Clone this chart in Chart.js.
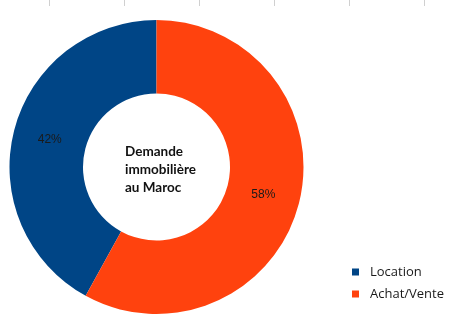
<!DOCTYPE html>
<html>
<head>
<meta charset="utf-8">
<script src="https://cdn.jsdelivr.net/npm/chart.js@4/dist/chart.umd.min.js"></script>
<style>
  html, body { margin: 0; padding: 0; background: #fff; }
  #wrap { position: relative; width: 450px; height: 329px; }
  .tick { position: absolute; top: 0; width: 1px; height: 6px; background: #d0d0d0; }
</style>
</head>
<body>
<div id="wrap">
  <canvas id="chart" width="450" height="329"></canvas>
</div>
<script>
'use strict';

var labels = ['Location', 'Achat/Vente'];
var values = [42, 58];
var colors = ['#004586', '#ff420e'];
var centerTitle = ['Demande', 'immobilière', 'au Maroc'];

// little grid stubs at the top of the sheet
[49, 124, 199, 274, 349, 424].forEach(function (x) {
  var d = document.createElement('div');
  d.className = 'tick';
  d.style.left = x + 'px';
  document.getElementById('wrap').appendChild(d);
});

var total = values.reduce(function (a, b) { return a + b; }, 0);

// percentage labels, centre title and legend
var extras = {
  id: 'extras',
  afterDraw: function (chart) {
    var ctx = chart.ctx;
    var meta = chart.getDatasetMeta(0);
    ctx.save();

    ctx.font = '12px "Liberation Sans", Arial, sans-serif';
    ctx.fillStyle = '#1a1a1a';
    ctx.textAlign = 'center';
    ctx.textBaseline = 'middle';
    meta.data.forEach(function (arc, i) {
      var p = arc.getCenterPoint();
      ctx.fillText(Math.round(values[i] / total * 100) + '%', p.x, p.y);
    });

    var c = meta.data[0];
    ctx.font = 'bold 13.5px Lato, "Open Sans", sans-serif';
    ctx.fillStyle = '#111';
    ctx.textAlign = 'left';
    centerTitle.forEach(function (line, i) {
      ctx.fillText(line, c.x - 31.5, c.y - 15 + i * 18);
    });

    ctx.font = '13px "Open Sans", sans-serif';
    labels.forEach(function (lab, i) {
      var y = 272 + i * 22;
      ctx.fillStyle = colors[i];
      ctx.fillRect(352, y - 3.5, 7, 7);
      ctx.fillStyle = '#1a1a1a';
      ctx.fillText(lab, 370, y);
    });

    ctx.restore();
  }
};

new Chart(document.getElementById('chart'), {
  type: 'doughnut',
  data: {
    labels: labels,
    datasets: [{
      data: values,
      backgroundColor: colors,
      borderWidth: 0
    }]
  },
  options: {
    responsive: false,
    animation: false,
    rotation: -151.2,
    cutout: '50%',
    layout: { padding: { left: 9.5, right: 146.5, top: 20, bottom: 15 } },
    plugins: {
      legend: { display: false },
      tooltip: { enabled: false }
    }
  },
  plugins: [extras]
});
</script>
</body>
</html>
